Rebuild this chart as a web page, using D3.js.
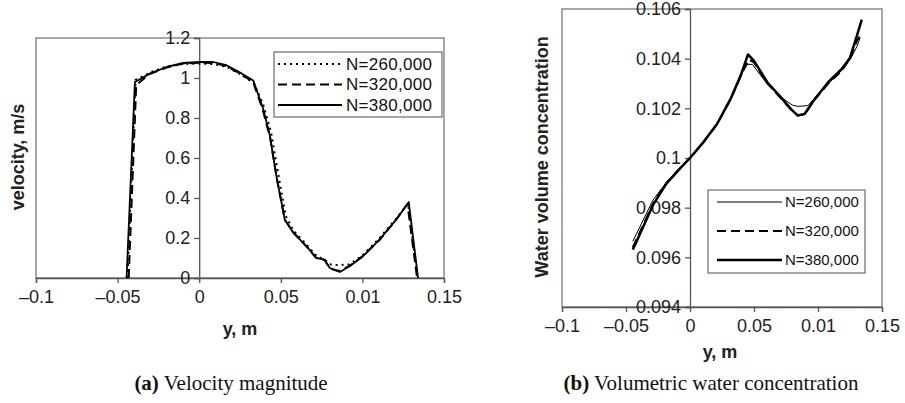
<!DOCTYPE html>
<html>
<head>
<meta charset="utf-8">
<script src="https://cdn.jsdelivr.net/npm/d3@7"></script>
<style>
  body { margin: 0; background: #fff; }
  svg { display: block; }
</style>
</head>
<body>
<svg id="chart" width="905" height="403"></svg>
<script>
// x ticks shared by both panels (the "0.01" label is as printed in the original)
const xTicks = [-0.1, -0.05, 0, 0.05, 0.1, 0.15];
const xTickLabels = ["\u20130.1", "\u20130.05", "0", "0.05", "0.01", "0.15"];

// panel (a) velocity magnitude
const velTicks = [0, 0.2, 0.4, 0.6, 0.8, 1, 1.2];
const vel260X = [-0.0440, -0.0390, -0.0300, -0.0200, -0.0100, 0.0000, 0.0090, 0.0170, 0.0250, 0.0335, 0.0395, 0.0440, 0.0480, 0.0530, 0.0580, 0.0660, 0.0720, 0.0770, 0.0810, 0.0860, 0.0920, 0.1000, 0.1100, 0.1200, 0.1280, 0.1338];
const vel260  = [0, 0.990, 1.028, 1.058, 1.070, 1.072, 1.070, 1.055, 1.020, 0.975, 0.860, 0.730, 0.540, 0.310, 0.235, 0.165, 0.110, 0.090, 0.066, 0.065, 0.068, 0.112, 0.195, 0.290, 0.372, 0];
const vel320X = [-0.0432, -0.0386, -0.0305, -0.0200, -0.0100, 0.0000, 0.0088, 0.0165, 0.0245, 0.0330, 0.0390, 0.0435, 0.0475, 0.0525, 0.0578, 0.0655, 0.0715, 0.0768, 0.0800, 0.0855, 0.0920, 0.1000, 0.1105, 0.1205, 0.1276, 0.1335];
const vel320  = [0, 0.965, 1.020, 1.052, 1.072, 1.076, 1.075, 1.060, 1.025, 0.980, 0.840, 0.700, 0.500, 0.290, 0.228, 0.160, 0.102, 0.090, 0.048, 0.035, 0.060, 0.108, 0.190, 0.290, 0.370, 0];
const vel380X = [-0.0445, -0.0394, -0.0302, -0.0200, -0.0098, 0.0004, 0.0086, 0.0167, 0.0245, 0.0331, 0.0392, 0.0433, 0.0473, 0.0524, 0.0576, 0.0657, 0.0718, 0.0769, 0.0800, 0.0861, 0.0922, 0.1004, 0.1106, 0.1208, 0.1284, 0.1341];
const vel380  = [0, 0.980, 1.022, 1.055, 1.075, 1.080, 1.080, 1.064, 1.030, 0.988, 0.846, 0.712, 0.511, 0.293, 0.226, 0.159, 0.100, 0.092, 0.050, 0.030, 0.059, 0.109, 0.193, 0.293, 0.380, 0];

// panel (b) volumetric water concentration
const concTicks = [0.094, 0.096, 0.098, 0.1, 0.102, 0.104, 0.106];
const concTickLabels = ["0.094", "0.096", "0.098", "0.1", "0.102", "0.104", "0.106"];
const conc260X = [-0.0447, -0.0380, -0.0290, -0.0180, -0.0080, 0.0000, 0.0105, 0.0210, 0.0316, 0.0400, 0.0434, 0.0487, 0.0600, 0.0710, 0.0800, 0.0842, 0.0921, 0.1000, 0.1080, 0.1180, 0.1250, 0.1305, 0.1329];
const conc260  = [0.09664, 0.09735, 0.09830, 0.09905, 0.09960, 0.10000, 0.10062, 0.10135, 0.10233, 0.10330, 0.10377, 0.10377, 0.10300, 0.10245, 0.10213, 0.10208, 0.10211, 0.10255, 0.10310, 0.10360, 0.10395, 0.10450, 0.10484];
const conc320X = [-0.0447, -0.0382, -0.0289, -0.0184, -0.0079, 0.0000, 0.0105, 0.0211, 0.0316, 0.0395, 0.0461, 0.0500, 0.0605, 0.0711, 0.0789, 0.0842, 0.0895, 0.0974, 0.1079, 0.1184, 0.1250, 0.1303, 0.1342];
const conc320  = [0.09640, 0.09712, 0.09815, 0.09900, 0.09958, 0.10000, 0.10063, 0.10136, 0.10235, 0.10330, 0.10397, 0.10385, 0.10300, 0.10240, 0.10195, 0.10172, 0.10175, 0.10235, 0.10300, 0.10350, 0.10400, 0.10470, 0.10505];
const conc380X = [-0.0447, -0.0382, -0.0289, -0.0184, -0.0079, 0.0000, 0.0105, 0.0211, 0.0316, 0.0395, 0.0453, 0.0500, 0.0605, 0.0711, 0.0789, 0.0842, 0.0895, 0.0974, 0.1079, 0.1184, 0.1250, 0.1303, 0.1342];
const conc380  = [0.09631, 0.09704, 0.09811, 0.09897, 0.09957, 0.10000, 0.10064, 0.10137, 0.10237, 0.10331, 0.10417, 0.10391, 0.10304, 0.10244, 0.10197, 0.10171, 0.10177, 0.10237, 0.10304, 0.10357, 0.10404, 0.10491, 0.10557];

const seriesNames = ["N=260,000", "N=320,000", "N=380,000"];

const svg = d3.select("#chart");
const sans = "'Liberation Sans', Arial, sans-serif";
const serif = "'Liberation Serif', 'Times New Roman', serif";

function zip(xs, ys) { return xs.map((x, i) => ({ x: x, y: ys[i] })); }

function drawPanel(p) {
  const x = d3.scaleLinear().domain([-0.1, 0.15]).range([p.left, p.right]);
  const y = d3.scaleLinear().domain(p.yDomain).range([p.bottom, p.top]);
  const g = svg.append("g");

  // plot frame
  g.append("rect")
    .attr("x", p.left).attr("y", p.top)
    .attr("width", p.right - p.left).attr("height", p.bottom - p.top)
    .attr("fill", "none").attr("stroke", "#8a8a8a").attr("stroke-width", 1.5);

  // x axis along the bottom
  const xAxis = g.append("g")
    .attr("transform", `translate(0, ${ p.bottom })`)
    .call(d3.axisBottom(x).tickValues(xTicks).tickSize(5).tickPadding(7)
      .tickFormat((d, i) => xTickLabels[i]));

  // y axis crossing at x = 0
  const yAxis = g.append("g")
    .attr("transform", `translate(${ x(0) }, 0)`)
    .call(d3.axisLeft(y).tickValues(p.yTicks).tickSize(5).tickPadding(4)
      .tickFormat((d, i) => p.yTickLabels[i]));

  [xAxis, yAxis].forEach(a => {
    a.select(".domain").attr("stroke", "#555").attr("stroke-width", 1.3);
    a.selectAll(".tick line").attr("stroke", "#555").attr("stroke-width", 1.3);
    a.selectAll("text").attr("font-family", sans).attr("font-size", "18px").attr("fill", "#222");
  });

  // lines
  const line = d3.line().x(d => x(d.x)).y(d => y(d.y));
  p.series.forEach(s => {
    g.append("path")
      .datum(zip(s.xs, s.ys))
      .attr("d", line)
      .attr("fill", "none")
      .attr("stroke", "#000")
      .attr("stroke-width", s.width)
      .attr("stroke-dasharray", s.dash)
      .attr("stroke-linejoin", "round");
  });

  // legend
  const lg = p.legend;
  g.append("rect")
    .attr("x", lg.x).attr("y", lg.y).attr("width", lg.w).attr("height", lg.h)
    .attr("fill", "#fff").attr("stroke", "#777").attr("stroke-width", 1.3);
  p.series.forEach((s, i) => {
    const cy = lg.rows[i];
    g.append("line")
      .attr("x1", lg.lineX1).attr("x2", lg.lineX2).attr("y1", cy).attr("y2", cy)
      .attr("stroke", "#000").attr("stroke-width", s.width)
      .attr("stroke-dasharray", s.dash);
    g.append("text")
      .attr("x", lg.textX).attr("y", cy).attr("dy", "0.35em")
      .attr("font-family", sans).attr("font-size", lg.fontSize)
      .attr("letter-spacing", lg.spacing)
      .attr("fill", "#111")
      .text(seriesNames[i]);
  });

  // axis titles
  g.append("text")
    .attr("x", p.xTitle[0]).attr("y", p.xTitle[1])
    .attr("text-anchor", "middle").attr("dy", "0.35em")
    .attr("font-family", sans).attr("font-size", "18px").attr("font-weight", "bold")
    .attr("fill", "#222")
    .text("y, m");
  g.append("text")
    .attr("transform", `translate(${ p.yTitle[0] }, ${ p.yTitle[1] }) rotate(-90)`)
    .attr("text-anchor", "middle").attr("dy", "0.35em")
    .attr("font-family", sans).attr("font-size", "18px").attr("font-weight", "bold")
    .attr("fill", "#222")
    .text(p.yTitleText);

  // caption
  const cap = g.append("text")
    .attr("x", p.caption[0]).attr("y", p.caption[1])
    .attr("text-anchor", "middle")
    .attr("font-family", serif).attr("font-size", "21px").attr("fill", "#111");
  cap.append("tspan").attr("font-weight", "bold").text(p.captionTag);
  cap.append("tspan").text(" " + p.captionText);
}

drawPanel({
  left: 36, right: 444, top: 38, bottom: 278,
  yDomain: [0, 1.2],
  yTicks: velTicks,
  yTickLabels: velTicks.map(String),
  series: [
    { xs: vel260X, ys: vel260, width: 2, dash: "2,4" },
    { xs: vel320X, ys: vel320, width: 2, dash: "9,5" },
    { xs: vel380X, ys: vel380, width: 1.8, dash: null }
  ],
  legend: { x: 274, y: 52, w: 168, h: 65, rows: [64, 84.5, 105], lineX1: 278, lineX2: 342, textX: 346, fontSize: "17px", spacing: "0.3px" },
  xTitle: [240, 329],
  yTitle: [18, 157],
  yTitleText: "velocity, m/s",
  caption: [231, 390],
  captionTag: "(a)",
  captionText: "Velocity magnitude"
});

drawPanel({
  left: 562, right: 882, top: 9, bottom: 307,
  yDomain: [0.094, 0.106],
  yTicks: concTicks,
  yTickLabels: concTickLabels,
  series: [
    { xs: conc260X, ys: conc260, width: 1, dash: null },
    { xs: conc320X, ys: conc320, width: 2, dash: "9,5" },
    { xs: conc380X, ys: conc380, width: 2.5, dash: null }
  ],
  legend: { x: 708, y: 190, w: 157, h: 83, rows: [202, 231, 260], lineX1: 717, lineX2: 782, textX: 785, fontSize: "15px", spacing: "0px" },
  xTitle: [720, 352],
  yTitle: [542, 157],
  yTitleText: "Water volume concentration",
  caption: [711, 390],
  captionTag: "(b)",
  captionText: "Volumetric water concentration"
});
</script>
</body>
</html>
